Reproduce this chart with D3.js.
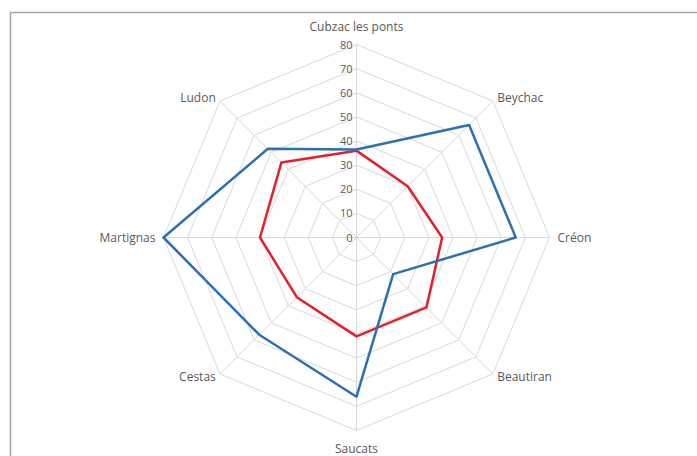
<!DOCTYPE html>
<html>
<head>
<meta charset="utf-8">
<script src="https://cdn.jsdelivr.net/npm/d3@7"></script>
<style>
  body { margin: 0; background: #fff; }
  text { font-family: "Open Sans", "Liberation Sans", sans-serif; fill: #595959; }
</style>
</head>
<body>
<div id="chart"></div>
<script>
// communes, clockwise from the top
var communes = ["Cubzac les ponts", "Beychac", "Créon", "Beautiran", "Saucats", "Cestas", "Martignas", "Ludon"];
var blueValues = [36.5, 66, 66, 21.5, 66, 57, 80, 52];
var redValues = [36, 30, 35.5, 41, 41, 35, 40, 44];
var ticks = [0, 10, 20, 30, 40, 50, 60, 70, 80];

var width = 697, height = 456;
var cx = 356.5, cy = 237.5, R = 193;

var svg = d3.select("#chart").append("svg")
  .attr("width", width)
  .attr("height", height);

// chart frame (only top and left edges show in the picture)
svg.append("rect")
  .attr("x", 10.5).attr("y", 12.5)
  .attr("width", 700).attr("height", 460)
  .attr("fill", "none")
  .attr("stroke", "#a6a6a6")
  .attr("stroke-width", 1.5);

var r = d3.scaleLinear().domain([0, 80]).range([0, R]);
var angle = d3.scalePoint().domain(d3.range(communes.length)).range([0, 2 * Math.PI * (communes.length - 1) / communes.length]);

function pt(i, v) {
  var a = angle(i);
  return [cx + r(v) * Math.sin(a), cy - r(v) * Math.cos(a)];
}

var g = svg.append("g");

// rings
ticks.slice(1).forEach(function (t) {
  g.append("polygon")
    .attr("points", communes.map(function (c, i) { return pt(i, t).join(","); }).join(" "))
    .attr("fill", "none")
    .attr("stroke", "#d9d9d9")
    .attr("stroke-width", 1);
});

// spokes
communes.forEach(function (c, i) {
  var p = pt(i, 80);
  g.append("line")
    .attr("x1", cx).attr("y1", cy)
    .attr("x2", p[0]).attr("y2", p[1])
    .attr("stroke", "#d9d9d9")
    .attr("stroke-width", 1);
});

// tick labels
g.selectAll(".tick").data(ticks).enter().append("text")
  .attr("x", cx - 4)
  .attr("y", function (d) { return cy - r(d) + 4; })
  .attr("text-anchor", "end")
  .attr("font-size", 11)
  .text(function (d) { return d; });

// series
var line = d3.line().curve(d3.curveLinearClosed);
function drawSeries(values, color) {
  g.append("path")
    .attr("d", line(values.map(function (v, i) { return pt(i, v); })))
    .attr("fill", "none")
    .attr("stroke", color)
    .attr("stroke-width", 2.5)
    .attr("stroke-linejoin", "round");
}
drawSeries(redValues, "#e5202a");
drawSeries(blueValues, "#2b70b3");

// category labels
communes.forEach(function (c, i) {
  var a = angle(i);
  var s = Math.sin(a), co = Math.cos(a);
  var p = pt(i, 80);
  var anchor = Math.abs(s) < 0.01 ? "middle" : (s > 0 ? "start" : "end");
  var x = p[0] + s * 8, y = p[1] - co * 8 + 4;
  if (Math.abs(s) < 0.01) y = co > 0 ? p[1] - 14 : p[1] + 22;
  if (Math.abs(s) > 0.1 && Math.abs(co) > 0.1) { y = p[1] - co * 4 + 4; x = p[0] + s * 6; }
  svg.append("text")
    .attr("x", x).attr("y", y)
    .attr("text-anchor", anchor)
    .attr("font-size", 12)
    .text(c);
});
</script>
</body>
</html>
